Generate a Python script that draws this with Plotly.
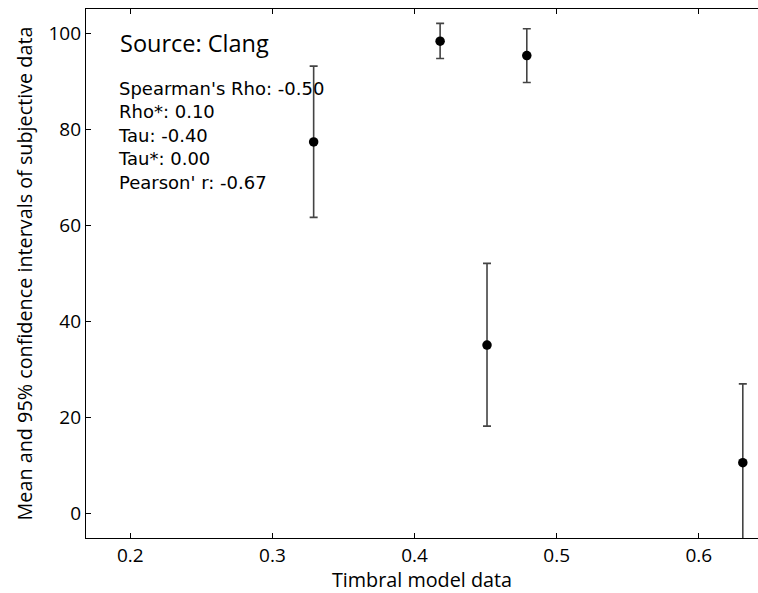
import plotly.graph_objects as go

# Data
timbral = [0.329, 0.418, 0.451, 0.479, 0.631]
mean_subj = [77.4, 98.4, 35.1, 95.4, 10.6]
ci_upper = [93.2, 102.1, 52.1, 101.0, 27.0]
ci_lower = [61.7, 94.8, 18.2, 89.8, -6.0]

source_label = "Source: Clang"
stats_lines = [
    "Spearman's Rho: -0.50",
    "Rho*: 0.10",
    "Tau: -0.40",
    "Tau*: 0.00",
    "Pearson' r: -0.67",
]

x_ticks = [0.2, 0.3, 0.4, 0.5, 0.6]
y_ticks = [0, 20, 40, 60, 80, 100]

err_plus = [u - m for u, m in zip(ci_upper, mean_subj)]
err_minus = [m - l for m, l in zip(mean_subj, ci_lower)]

FONT = "Open Sans"

fig = go.Figure()
fig.add_trace(go.Scatter(
    x=timbral, y=mean_subj, mode="markers",
    marker=dict(color="black", size=9.5),
    error_y=dict(type="data", symmetric=False, array=err_plus, arrayminus=err_minus,
                 color="#444444", thickness=1.6, width=4),
    showlegend=False, cliponaxis=True,
))

W, H = 758, 593
L, R, T, B = 86, 0, 9, 55
pw, ph = W - L - R, H - T - B

def px_to_paper(px, py):
    return (px - L) / pw, 1 - (py - T) / ph

annots = []
sx, sy = px_to_paper(118, 43)
annots.append(dict(text=source_label, x=sx, y=sy, xref="paper", yref="paper",
                   xanchor="left", yanchor="middle", showarrow=False,
                   font=dict(family=FONT, size=23.5, color="black")))
# stats block as one multi-line text (line spacing 1.3em ~ 23.5 px)
lx, ly = px_to_paper(116, 76)
annots.append(dict(text="<br>".join(stats_lines), x=lx, y=ly, xref="paper", yref="paper",
                   xanchor="left", yanchor="top", align="left", showarrow=False,
                   font=dict(family="DejaVu Sans", size=18, color="black")))

tick_font = dict(family=FONT, size=19, color="black")
title_font = dict(family=FONT, size=19.8, color="black")

fig.update_layout(
    width=W, height=H,
    margin=dict(l=L, r=R, t=T, b=B),
    paper_bgcolor="white", plot_bgcolor="white",
    annotations=annots,
    xaxis=dict(range=[0.1688, 0.6417], tickvals=x_ticks, ticktext=[str(v) for v in x_ticks],
               title=dict(text="Timbral model data", font=title_font, standoff=4),
               showline=True, linecolor="black", linewidth=1.3, mirror="allticks",
               ticks="inside", ticklen=5, tickcolor="black", showgrid=False,
               zeroline=False, tickfont=tick_font),
    yaxis=dict(range=[-5.1, 105.1], tickvals=y_ticks, ticktext=[str(v) for v in y_ticks],
               title=dict(text="Mean and 95% confidence intervals of subjective data",
                          font=title_font, standoff=10),
               showline=True, linecolor="black", linewidth=1.3, mirror=False,
               ticks="inside", ticklen=5, tickcolor="black", showgrid=False,
               zeroline=False, tickfont=tick_font),
)

fig.write_html("out.html")
